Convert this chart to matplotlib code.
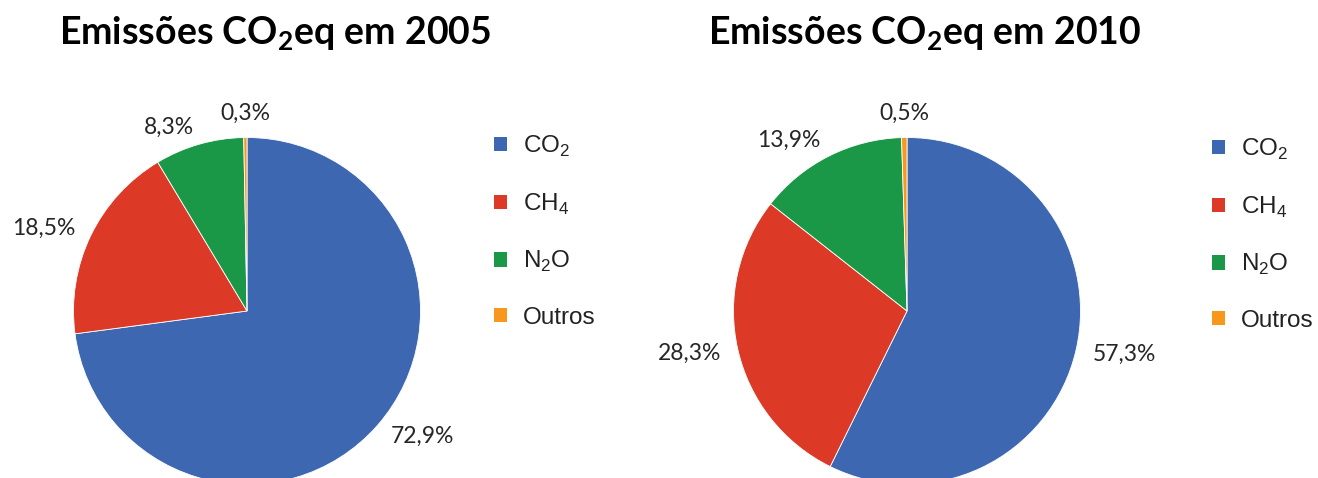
import matplotlib.pyplot as plt
from matplotlib.patches import Patch

# data
gases = ['CO$_\\mathrm{2}$', 'CH$_\\mathrm{4}$', 'N$_\\mathrm{2}$O', 'Outros']
share_2005 = [72.9, 18.5, 8.3, 0.3]
share_2010 = [57.3, 28.3, 13.9, 0.5]
years = ['2005', '2010']
colors = ['#3D67B1', '#DC3A26', '#1A9848', '#F7981D']

plt.rcParams['mathtext.fontset'] = 'custom'
plt.rcParams['mathtext.rm'] = 'Liberation Sans'
plt.rcParams['mathtext.bf'] = 'Lato:bold'

W, H = 1318, 478
fig = plt.figure(figsize=(W / 100, H / 100), dpi=100)

def pct_label(v):
    return '{:.1f}%'.format(v).replace('.', ',')

def draw_pie(cx, cy, r, values, year, title_x, legend_x, legend_top):
    ax = fig.add_axes([(cx - r) / W, (H - cy - r) / H, 2 * r / W, 2 * r / H])
    wedges, texts = ax.pie(values, colors=colors, startangle=90, counterclock=False,
                           labels=[pct_label(v) for v in values], labeldistance=1.1,
                           wedgeprops=dict(edgecolor='white', linewidth=0.6),
                           textprops=dict(fontsize=16.5, family='Lato', color='#262626'))
    # labels right above the top go centred, like the original
    for t in texts:
        x, y = t.get_position()
        if abs(x) < 0.1:
            t.set_ha('center')
            t.set_va('baseline')
    ax.set_xlim(-1, 1)
    ax.set_ylim(-1, 1)
    ax.set_aspect('equal')

    fig.text(title_x / W, 1 - 45 / H, 'Emissões CO$_\\mathbf{2}$eq em ' + year,
             ha='center', va='baseline', fontsize=27, family='Lato', fontweight='bold')

    handles = [Patch(facecolor=c, edgecolor='none') for c in colors]
    ax.legend(handles, gases, loc='upper left', bbox_to_anchor=(legend_x / W, 1 - legend_top / H),
              bbox_transform=fig.transFigure, frameon=False,
              prop=dict(family='Liberation Sans', size=17.5),
              borderpad=0, borderaxespad=0,
              handlelength=0.52, handleheight=0.52, handletextpad=0.67, labelspacing=1.33,
              labelcolor='#222222')

draw_pie(247, 311, 173.5, share_2005, years[0], 275, 494, 134)
draw_pie(907, 311, 173.5, share_2010, years[1], 925, 1212, 137)

fig.savefig('out.png', dpi=100)
